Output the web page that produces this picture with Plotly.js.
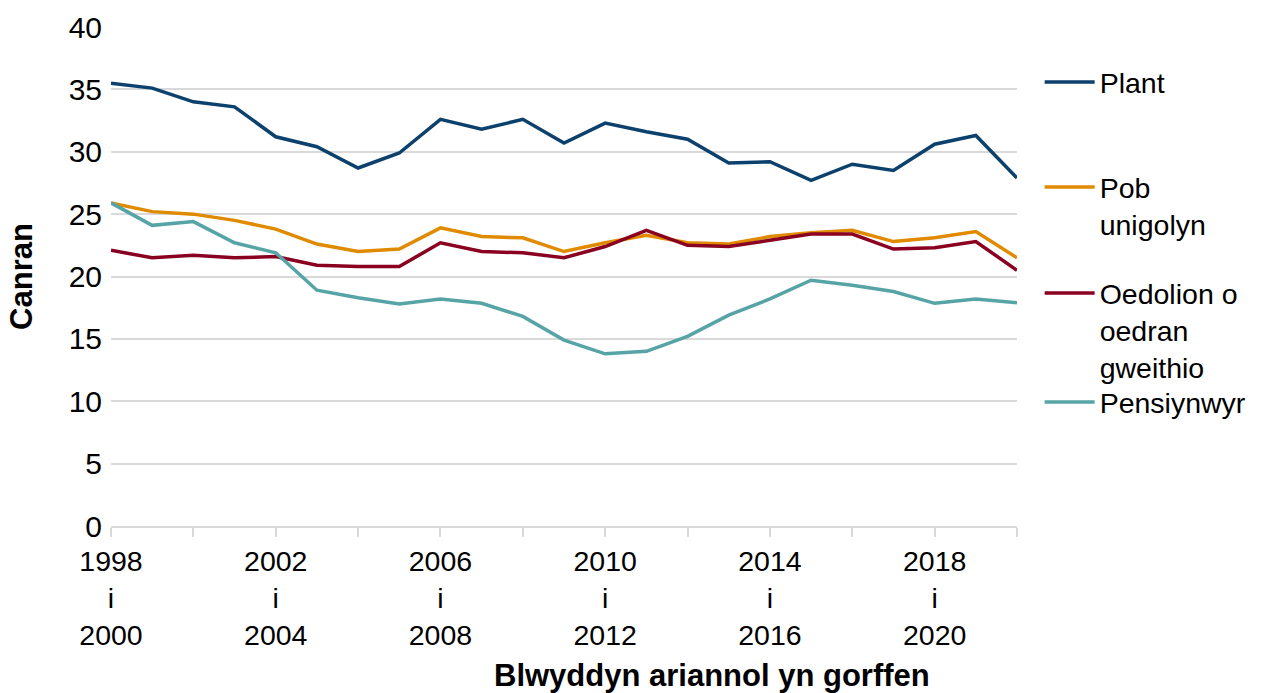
<!DOCTYPE html>
<html>
<head>
<meta charset="utf-8">
<script src="https://cdn.plot.ly/plotly-3.0.1.min.js"></script>
<style>html,body{margin:0;padding:0;background:#fff;}#chart{width:1270px;height:693px;}</style>
</head>
<body>
<div id="chart"></div>
<script>
// Financial-year periods (3-year averages)
const startYears = [1998,1999,2000,2001,2002,2003,2004,2005,2006,2007,2008,2009,2010,2011,2012,2013,2014,2015,2016,2017,2018,2019,2020];
const endYears   = [2000,2001,2002,2003,2004,2005,2006,2007,2008,2009,2010,2011,2012,2013,2014,2015,2016,2017,2018,2019,2020,2021,2022];
const periods = startYears.map((s, i) => s + " i " + endYears[i]);

const plant      = [35.5,35.1,34.0,33.6,31.2,30.4,28.7,29.9,32.6,31.8,32.6,30.7,32.3,31.6,31.0,29.1,29.2,27.7,29.0,28.5,30.6,31.3,27.9];
const pobUnigol  = [25.9,25.2,25.0,24.5,23.8,22.6,22.0,22.2,23.9,23.2,23.1,22.0,22.7,23.3,22.7,22.6,23.2,23.5,23.7,22.8,23.1,23.6,21.5];
const oedolion   = [22.1,21.5,21.7,21.5,21.6,20.9,20.8,20.8,22.7,22.0,21.9,21.5,22.4,23.7,22.5,22.4,22.9,23.4,23.4,22.2,22.3,22.8,20.5];
const pensiynwyr = [25.9,24.1,24.4,22.7,21.9,18.9,18.3,17.8,18.2,17.85,16.8,14.9,13.8,14.0,15.2,16.9,18.2,19.7,19.3,18.8,17.85,18.2,17.9];

const seriesNames = ["Plant", "Pob<br>unigolyn", "Oedolion o<br>oedran<br>gweithio", "Pensiynwyr"];
const yTickVals = [0,5,10,15,20,25,30,35,40];

// x ticks every 2 periods, labels every 4
const tickVals = periods.filter((p, i) => i % 2 === 0);
const tickText = periods.map((p, i) => (i % 4 === 0 ? startYears[i] + "<br>i<br>" + endYears[i] : null)).filter((t, i) => i % 2 === 0).map(t => t === null ? "" : t);

const colors = ["#0c416d", "#e08a00", "#8a0020", "#57a4a6"];
const values = [plant, pobUnigol, oedolion, pensiynwyr];
const legendIds = ["legend", "legend2", "legend3", "legend4"];

const FONT = "Liberation Sans, Arial, sans-serif";

const traces = values.map((v, k) => ({
  type: "scatter",
  mode: "lines",
  x: periods,
  y: v,
  name: seriesNames[k],
  line: {color: colors[k], width: 3.5},
  legend: legendIds[k],
  hoverinfo: "x+y+name"
}));

const legendY = [84, 189, 295, 404];
function legendCfg(ypx) {
  return {
    x: 1.025, xanchor: "left",
    y: (526 - (ypx - 27)) / 499, yanchor: "top",
    valign: "top",
    font: {family: FONT, size: 28.5, color: "#000"},
    bgcolor: "rgba(0,0,0,0)",
    borderwidth: 0,
    itemwidth: 50,
    itemclick: false, itemdoubleclick: false
  };
}

const layout = {
  width: 1270, height: 693,
  margin: {l: 111, r: 253, t: 27, b: 167},
  paper_bgcolor: "#fff", plot_bgcolor: "#fff",
  font: {family: FONT, size: 28, color: "#000"},
  showlegend: true,
  legend: legendCfg(legendY[0]),
  legend2: legendCfg(legendY[1]),
  legend3: legendCfg(legendY[2]),
  legend4: legendCfg(legendY[3]),
  xaxis: {
    type: "category",
    range: [0, periods.length - 1],
    tickmode: "array",
    tickvals: tickVals,
    ticktext: tickText,
    ticks: "outside", ticklen: 9, tickwidth: 1.5, tickcolor: "#d9d9d9",
    showline: true, linecolor: "#d9d9d9", linewidth: 1.5,
    showgrid: false, zeroline: false,
    tickfont: {family: FONT, size: 28.5, color: "#000"},
    automargin: false
  },
  yaxis: {
    range: [0, 40],
    tickmode: "array",
    tickvals: yTickVals,
    showgrid: true, gridcolor: "#d9d9d9", gridwidth: 1.5,
    zeroline: false, showline: false,
    ticks: "",
    ticklabelstandoff: 8,
    tickfont: {family: FONT, size: 30, color: "#000"},
    title: {text: "<b>Canran</b>", font: {family: FONT, size: 31, color: "#000"}, standoff: 26},
    automargin: false
  },
  annotations: [{
    text: "<b>Blwyddyn ariannol yn gorffen</b>",
    xref: "paper", yref: "paper",
    x: (712 - 111) / 906, y: (526 - 675) / 499,
    xanchor: "center", yanchor: "middle",
    showarrow: false,
    font: {family: FONT, size: 31, color: "#000"}
  }]
};

Plotly.newPlot("chart", traces, layout, {displayModeBar: false});
</script>
</body>
</html>
